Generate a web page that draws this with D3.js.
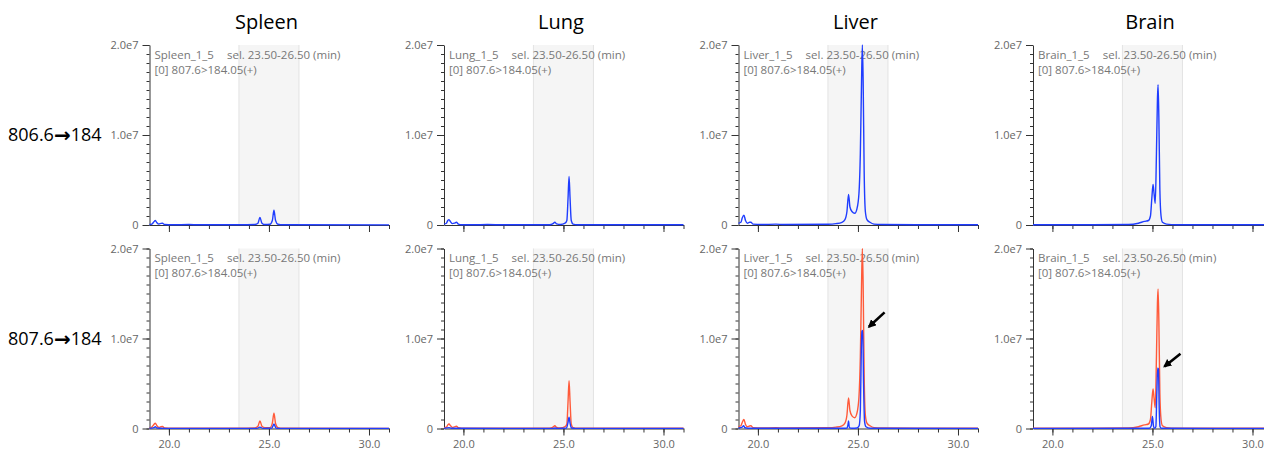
<!DOCTYPE html>
<html>
<head>
<meta charset="utf-8">
<script src="https://cdn.jsdelivr.net/npm/d3@7"></script>
<style>
body{margin:0;background:#fff;}
svg{display:block;font-family:"Open Sans",sans-serif;}
</style>
</head>
<body>
<script>
// tissues / rows
var tissues = ["Spleen", "Lung", "Liver", "Brain"];
var rowPrecursors = ["806.6", "807.6"];
var rowProducts = ["184", "184"];
var sampleNames = ["Spleen_1_5", "Lung_1_5", "Liver_1_5", "Brain_1_5"];
var selText = "sel. 23.50-26.50 (min)";
var mrmText = "[0] 807.6>184.05(+)";
var selRange = [23.5, 26.5];
var xMajor = [20, 25, 30];
var xMajorLabels = ["20.0", "25.0", "30.0"];
var xMinor = [20, 21, 22, 23, 24, 25, 26, 27, 28, 29, 30, 31];
var yMajor = [0, 1e7, 2e7];
var yMajorLabels = ["0", "1.0e7", "2.0e7"];
var yMinor = d3.range(0, 2e7 + 1, 1e6);

// traces: [time (min), intensity (x1e6)]
var spleenTop = [[19.03,0.05],[19.15,0.1],[19.25,0.35],[19.32,0.5],[19.4,0.25],[19.5,0.1],[19.6,0.18],[19.68,0.2],[19.78,0.05],[20.2,0.02],[21.0,0.05],[21.5,0.02],[23.5,0.02],[24.3,0.05],[24.45,0.2],[24.55,0.85],[24.65,0.2],[24.8,0.05],[25.05,0.08],[25.17,0.5],[25.25,1.65],[25.33,0.5],[25.45,0.08],[25.7,0.02],[31.0,0.01]];
var lungTop = [[19.03,0.1],[19.15,0.2],[19.22,0.5],[19.28,0.6],[19.36,0.35],[19.45,0.15],[19.55,0.2],[19.65,0.3],[19.75,0.1],[19.9,0.03],[20.5,0.02],[21.2,0.05],[22,0.02],[24.3,0.03],[24.48,0.15],[24.57,0.3],[24.66,0.12],[24.85,0.05],[25.08,0.2],[25.17,0.5],[25.23,3.0],[25.28,5.4],[25.33,3.0],[25.39,0.5],[25.48,0.1],[25.7,0.03],[31.0,0.02]];
var liverTop = [[19.03,0.2],[19.15,0.3],[19.22,0.8],[19.3,1.1],[19.38,0.5],[19.48,0.2],[19.58,0.3],[19.65,0.3],[19.75,0.1],[20.2,0.05],[20.9,0.1],[21.3,0.05],[23.5,0.08],[23.9,0.15],[24.2,0.3],[24.35,0.6],[24.45,1.5],[24.53,3.4],[24.6,2.0],[24.7,1.5],[24.84,1.3],[24.95,1.8],[25.05,3.5],[25.12,8],[25.18,16],[25.22,20],[25.26,16],[25.31,6],[25.37,1.5],[25.45,0.6],[25.6,0.3],[25.8,0.1],[26.2,0.05],[31.0,0.02]];
var brainTop = [[19.03,0.02],[20.0,0.02],[22.0,0.02],[23.8,0.05],[24.3,0.2],[24.6,0.4],[24.8,0.5],[24.9,1.0],[24.97,3.0],[25.03,4.5],[25.08,3.5],[25.14,2.4],[25.2,8],[25.25,14],[25.28,15.6],[25.32,12],[25.37,4],[25.43,1],[25.5,0.3],[25.7,0.1],[26.2,0.03],[31.0,0.02]];

var spleenRed = [[19.03,0.05],[19.15,0.15],[19.25,0.45],[19.32,0.6],[19.4,0.3],[19.5,0.12],[19.6,0.2],[19.68,0.22],[19.78,0.05],[20.2,0.02],[21.0,0.04],[23.5,0.02],[24.3,0.06],[24.45,0.25],[24.55,0.85],[24.65,0.25],[24.8,0.08],[25.05,0.1],[25.17,0.6],[25.25,1.7],[25.33,0.55],[25.45,0.1],[25.7,0.03],[31.0,0.01]];
var spleenBlue = [[19.03,0.02],[19.25,0.1],[19.32,0.2],[19.4,0.05],[19.6,0.03],[20.0,0.01],[24.4,0.01],[24.55,0.15],[24.7,0.01],[25.15,0.05],[25.25,0.5],[25.35,0.05],[25.5,0.01],[31.0,0.01]];
var lungRed = [[19.03,0.08],[19.15,0.15],[19.22,0.4],[19.28,0.5],[19.36,0.3],[19.45,0.12],[19.55,0.18],[19.65,0.25],[19.75,0.08],[19.9,0.03],[21.2,0.04],[22,0.02],[24.3,0.03],[24.48,0.15],[24.57,0.3],[24.66,0.12],[24.85,0.05],[25.08,0.2],[25.17,0.5],[25.23,3.0],[25.28,5.3],[25.33,3.0],[25.39,0.5],[25.48,0.1],[25.7,0.03],[31.0,0.02]];
var lungBlue = [[19.03,0.02],[19.28,0.1],[19.4,0.02],[24.5,0.01],[24.57,0.05],[24.7,0.01],[25.15,0.05],[25.22,0.6],[25.28,1.25],[25.33,0.6],[25.4,0.05],[25.6,0.01],[31.0,0.01]];
var liverRed = [[19.03,0.2],[19.15,0.3],[19.22,0.7],[19.3,1.0],[19.38,0.45],[19.48,0.2],[19.58,0.28],[19.65,0.3],[19.75,0.1],[20.2,0.05],[20.9,0.1],[21.3,0.05],[23.5,0.08],[23.9,0.15],[24.2,0.3],[24.35,0.6],[24.45,1.5],[24.53,3.4],[24.6,2.0],[24.7,1.4],[24.84,1.2],[24.95,1.7],[25.05,3.5],[25.12,8],[25.18,16],[25.22,20],[25.26,16],[25.31,6],[25.37,1.5],[25.45,0.6],[25.6,0.3],[25.8,0.1],[26.2,0.05],[31.0,0.02]];
var liverBlue = [[19.03,0.05],[19.22,0.15],[19.28,0.3],[19.36,0.08],[19.5,0.03],[20.0,0.02],[24.3,0.02],[24.45,0.05],[24.5,0.4],[24.53,0.85],[24.57,0.1],[24.7,0.02],[24.95,0.05],[25.06,0.3],[25.12,2],[25.17,9],[25.2,10.8],[25.24,10.9],[25.28,5],[25.33,0.8],[25.4,0.2],[25.6,0.03],[31.0,0.01]];
var brainRed = [[19.03,0.02],[20.0,0.02],[22.0,0.02],[23.8,0.05],[24.3,0.2],[24.6,0.4],[24.8,0.5],[24.9,1.0],[24.97,3.0],[25.03,4.4],[25.08,3.4],[25.14,2.3],[25.2,8],[25.25,14],[25.28,15.5],[25.32,12],[25.37,4],[25.43,1],[25.5,0.3],[25.7,0.1],[26.2,0.03],[31.0,0.02]];
var brainBlue = [[19.03,0.01],[24.85,0.02],[24.94,0.3],[25.0,1.35],[25.05,0.3],[25.1,0.02],[25.17,0.2],[25.22,4],[25.26,6.7],[25.3,6.6],[25.34,2],[25.38,0.2],[25.45,0.02],[31.0,0.01]];

// row 0 = blue only, row 1 = red + blue
var topTraces = [spleenTop, lungTop, liverTop, brainTop];
var redTraces = [spleenRed, lungRed, liverRed, brainRed];
var blueTraces = [spleenBlue, lungBlue, liverBlue, brainBlue];

// arrows on row 1: [panel, tail time, tail value, tip time, tip value] (value x1e6)
var arrows = [[2, 26.33, 12.9, 25.55, 11.3], [3, 26.4, 8.3, 25.6, 6.9]];

var blue = "#1f3dff";
var red = "#ff5a3a";

var W = 1264, H = 452;
var svg = d3.select("body").append("svg").attr("width", W).attr("height", H);

svg.append("defs").append("marker")
	.attr("id", "head")
	.attr("viewBox", "0 0 10 10")
	.attr("refX", 8).attr("refY", 5)
	.attr("markerWidth", 3.2).attr("markerHeight", 3.2)
	.attr("orient", "auto")
	.append("path").attr("d", "M0,0L10,5L0,10z").attr("fill", "#000");

var plotW = 239.5, plotH = 180;
var rowTop = [45, 248.5];

function panelX(i){
	return 149.5 + i * 294.5;
}

// titles
svg.selectAll(".title").data(tissues).enter().append("text")
	.attr("x", function(d, i){ return panelX(i) + 117; })
	.attr("y", 29)
	.attr("text-anchor", "middle")
	.attr("font-size", 20)
	.attr("fill", "#000")
	.text(function(d){ return d; });

// row labels (precursor -> product)
var rl = svg.selectAll(".rowlab").data(rowPrecursors).enter().append("text")
	.attr("x", 8)
	.attr("y", function(d, r){ return rowTop[r] + 96; })
	.attr("font-size", 18)
	.attr("fill", "#000");
rl.append("tspan").text(function(d){ return d; });
rl.append("tspan")
	.attr("font-family", "'DejaVu Sans',sans-serif")
	.attr("font-weight", "bold")
	.attr("font-size", 20)
	.attr("dy", 1)
	.text("\u2192");
rl.append("tspan").attr("dy", -1).text(function(d, r){ return rowProducts[r]; });

var line = null;

for(var r = 0; r < 2; r++){
	for(var i = 0; i < 4; i++){
		var x = d3.scaleLinear().domain([19.03, 31.0]).range([panelX(i), panelX(i) + plotW]);
		var y = d3.scaleLinear().domain([0, 2e7]).range([rowTop[r] + plotH, rowTop[r]]);
		line = d3.line()
			.x(function(d){ return x(d[0]); })
			.y(function(d){ return y(d[1] * 1e6); })
			.curve(d3.curveMonotoneX);

		var g = svg.append("g");

		// selection band
		g.append("rect")
			.attr("x", x(selRange[0])).attr("y", y(2e7))
			.attr("width", x(selRange[1]) - x(selRange[0]))
			.attr("height", y(0) - y(2e7))
			.attr("fill", "#f5f5f5");
		g.selectAll(".edge").data(selRange).enter().append("line")
			.attr("x1", function(d){ return x(d); }).attr("x2", function(d){ return x(d); })
			.attr("y1", y(2e7)).attr("y2", y(0))
			.attr("stroke", "#e3e3e3").attr("stroke-width", 1);

		// axes
		var xa = g.append("g").attr("transform", "translate(0," + y(0) + ")");
		xa.call(d3.axisBottom(x).tickValues(xMinor).tickSize(4).tickSizeOuter(0).tickFormat(""));
		var xb = g.append("g").attr("transform", "translate(0," + y(0) + ")");
		xb.call(d3.axisBottom(x).tickValues(xMajor).tickSize(7).tickSizeOuter(0)
			.tickFormat(function(d, k){ return r == 1 ? xMajorLabels[k] : ""; }));
		xb.select(".domain").remove();

		var ya = g.append("g").attr("transform", "translate(" + x.range()[0] + ",0)");
		ya.call(d3.axisLeft(y).tickValues(yMinor).tickSize(3).tickSizeOuter(0).tickFormat(""));
		var yb = g.append("g").attr("transform", "translate(" + x.range()[0] + ",0)");
		yb.call(d3.axisLeft(y).tickValues(yMajor).tickSize(7).tickSizeOuter(0)
			.tickFormat(function(d, k){ return yMajorLabels[k]; }));
		yb.select(".domain").remove();

		g.selectAll(".domain, .tick line").attr("stroke", "#333");
		g.selectAll(".tick text").attr("fill", "#666").attr("font-size", 11)
			.attr("font-family", "'Open Sans',sans-serif");
		xb.selectAll(".tick text").attr("dy", "0.9em");
		yb.selectAll(".tick text").attr("dx", "-1");

		// info text
		var t1 = g.append("text")
			.attr("x", x.range()[0] + 5).attr("y", rowTop[r] + 13.5)
			.attr("font-size", 11.5).attr("fill", "#777");
		t1.append("tspan").text(sampleNames[i]);
		t1.append("tspan").attr("dx", 13).text(selText);
		g.append("text")
			.attr("x", x.range()[0] + 5).attr("y", rowTop[r] + 28.5)
			.attr("font-size", 11.5).attr("fill", "#777")
			.text(mrmText);

		// traces
		if(r == 0){
			g.append("path").datum(topTraces[i]).attr("d", line)
				.attr("fill", "none").attr("stroke", blue).attr("stroke-width", 1.4);
		}else{
			g.append("path").datum(redTraces[i]).attr("d", line)
				.attr("fill", "none").attr("stroke", red).attr("stroke-width", 1.4);
			g.append("path").datum(blueTraces[i]).attr("d", line)
				.attr("fill", "none").attr("stroke", blue).attr("stroke-width", 1.4);

			//箭头
			arrows.filter(function(a){ return a[0] == i; }).forEach(function(a){
				g.append("line")
					.attr("x1", x(a[1])).attr("y1", y(a[2] * 1e6))
					.attr("x2", x(a[3])).attr("y2", y(a[4] * 1e6))
					.attr("stroke", "#000").attr("stroke-width", 2.6)
					.attr("marker-end", "url(#head)");
			});
		}
	}
}
</script>
</body>
</html>
